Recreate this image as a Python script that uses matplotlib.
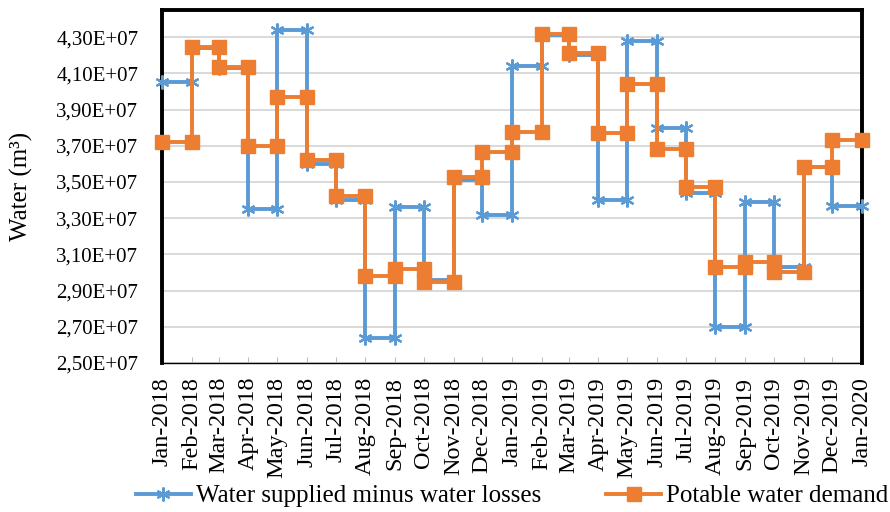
import matplotlib
matplotlib.use("Agg")
from matplotlib import pyplot as plt
import matplotlib.dates as mdates
from matplotlib.ticker import FuncFormatter, FixedLocator
import numpy as np
import pandas as pd

# monthly values (m3), Jan-2018 .. Dec-2019
months = pd.date_range("2018-01-01", "2020-01-01", freq="MS")
supplied_minus_losses = [
    4.05e7, 4.24e7, 4.13e7, 3.35e7, 4.34e7, 3.60e7, 3.40e7, 2.64e7,
    3.36e7, 2.96e7, 3.51e7, 3.32e7, 4.14e7, 4.31e7, 4.20e7, 3.40e7,
    4.28e7, 3.80e7, 3.44e7, 2.70e7, 3.39e7, 3.03e7, 3.58e7, 3.37e7,
]
potable_demand = [
    3.72e7, 4.245e7, 4.135e7, 3.70e7, 3.97e7, 3.62e7, 3.42e7, 2.98e7,
    3.02e7, 2.95e7, 3.53e7, 3.665e7, 3.775e7, 4.315e7, 4.21e7, 3.77e7,
    4.04e7, 3.68e7, 3.47e7, 3.03e7, 3.06e7, 3.00e7, 3.58e7, 3.73e7,
]
y_ticks = np.arange(2.5e7, 4.31e7, 0.2e7)

plt.rcParams['font.family'] = ['Liberation Serif', 'DejaVu Serif']

BLUE = '#5B9BD5'
ORANGE = '#ED7D31'


def step_points(vals):
    # each month is a flat segment from its first day to the next month's first day
    x = np.empty(2 * len(vals), dtype=object)
    x[0::2] = list(months[:-1])
    x[1::2] = list(months[1:])
    y = np.repeat(vals, 2)
    return mdates.date2num(list(x)), y


fig = plt.figure(figsize=(8.9, 5.12), dpi=100)
ax = fig.add_axes([162 / 890, 1 - 363 / 512, 700 / 890, 353 / 512])

xb, yb = step_points(supplied_minus_losses)
xo, yo = step_points(potable_demand)

ax.plot(xb, yb, color=BLUE, lw=2.8, marker=(6, 2, 0), ms=10, mew=1.6,
        clip_on=False, zorder=3, label='Water supplied minus water losses')
ax.plot(xo, yo, color=ORANGE, lw=2.8, marker='s', ms=9.5, mec=ORANGE,
        clip_on=False, zorder=4, label='Potable water demand')

ax.set_xlim(mdates.date2num(months[0]), mdates.date2num(months[-1]))
ax.set_ylim(2.5e7, 4.45e7)

ax.xaxis.set_major_locator(FixedLocator(mdates.date2num(list(months))))
ax.xaxis.set_major_formatter(mdates.DateFormatter('%b-%Y'))
ax.set_yticks(y_ticks)
ax.yaxis.set_major_formatter(FuncFormatter(lambda v, p: f"{v:.2E}".replace('.', ',')))

ax.grid(axis='y', color='#d9d9d9', lw=1.4)
ax.set_axisbelow(True)

ax.tick_params(axis='y', length=0, pad=17, labelsize=15)
ax.tick_params(axis='x', direction='in', length=4, color='#bfbfbf', pad=10,
               labelsize=17.5, labelrotation=90)

for side in ('left', 'top', 'right'):
    ax.spines[side].set_color('black')
    ax.spines[side].set_linewidth(2.8)
ax.spines['bottom'].set_color('black')
ax.spines['bottom'].set_linewidth(1.0)

ax.set_ylabel('Water (m³)', fontsize=18)
ax.yaxis.set_label_coords(33 / 890, 1 - 186 / 512, transform=fig.transFigure)

fig.legend(loc='center', bbox_to_anchor=(512 / 890, 1 - 496 / 512), ncol=2,
           frameon=False, fontsize=18, handlelength=2.2, handletextpad=0.2,
           columnspacing=2.6, borderaxespad=0)

fig.savefig('out.png', dpi=100)
